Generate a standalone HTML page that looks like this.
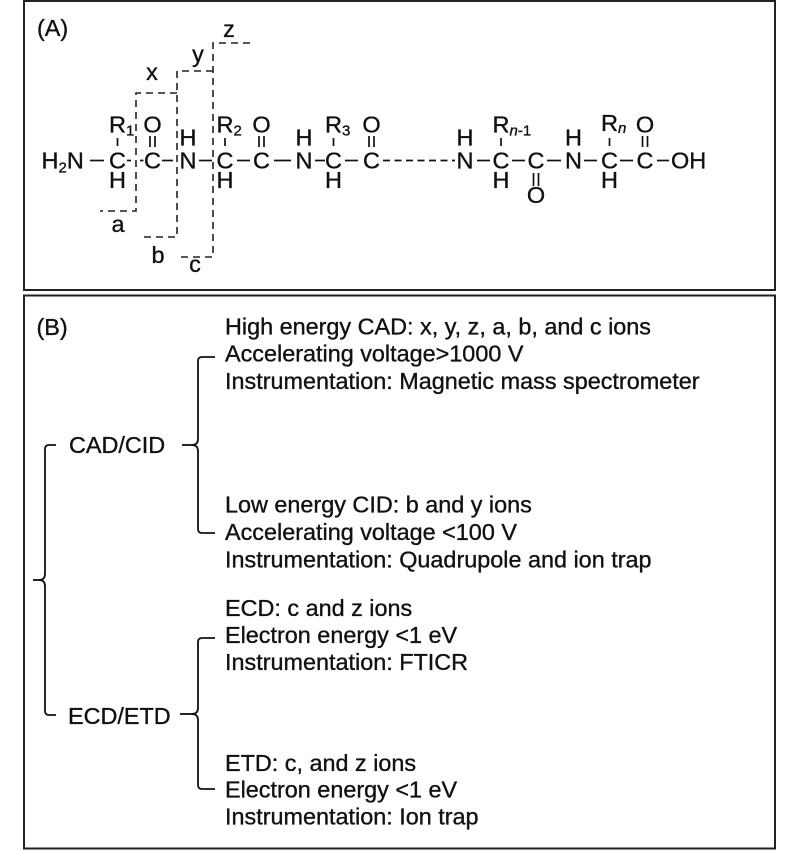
<!DOCTYPE html>
<html>
<head>
<meta charset="utf-8">
<style>
html,body{margin:0;padding:0;background:#fff;}
svg{display:block;}
text{font-family:"Liberation Sans",Arial,sans-serif;fill:#111;stroke:#111;stroke-width:0.35;}
</style>
</head>
<body>
<svg width="800" height="851" viewBox="0 0 800 851" xmlns="http://www.w3.org/2000/svg">
  <!-- Panel borders -->
  <rect x="24" y="1" width="751" height="289" fill="none" stroke="#222" stroke-width="2"/>
  <rect x="24" y="295.5" width="751" height="553" fill="none" stroke="#222" stroke-width="2"/>

  <!-- ===== Panel A ===== -->
  <text x="37" y="36" font-size="23.4">(A)</text>

  <!-- fragment labels -->
  <g font-size="23.4" text-anchor="middle">
    <text x="229" y="37">z</text>
    <text x="198" y="62">y</text>
    <text x="152" y="80">x</text>
    <text x="118" y="232">a</text>
    <text x="158" y="263">b</text>
    <text x="195" y="272">c</text>
  </g>

  <!-- dashed cleavage brackets -->
  <g fill="none" stroke="#222" stroke-width="1.6" stroke-dasharray="7 5">
    <path d="M177,93 H136 V211 H100"/>
    <path d="M213,71 H177 V237 H142"/>
    <path d="M250,43 H213 V257 H177"/>
  </g>

  <!-- main chain atoms -->
  <g font-size="23.5">
    <text x="41.5" y="168.5">H<tspan font-size="15" dy="4">2</tspan><tspan dy="-4">N</tspan></text>
    <text x="671" y="168.5">OH</text>
  </g>
  <g font-size="23.5" text-anchor="middle">
    <text x="117.5" y="168.5">C</text>
    <text x="152.5" y="168.5">C</text>
    <text x="188" y="168.5">N</text>
    <text x="225" y="168.5">C</text>
    <text x="261.5" y="168.5">C</text>
    <text x="304" y="168.5">N</text>
    <text x="333.5" y="168.5">C</text>
    <text x="371.5" y="168.5">C</text>
    <text x="465" y="168.5">N</text>
    <text x="501" y="168.5">C</text>
    <text x="536" y="168.5">C</text>
    <text x="573.5" y="168.5">N</text>
    <text x="609.5" y="168.5">C</text>
    <text x="645" y="168.5">C</text>

    <text x="152.5" y="132.5">O</text>
    <text x="261.5" y="132.5">O</text>
    <text x="371.5" y="132.5">O</text>
    <text x="645" y="132.5">O</text>
    <text x="536" y="203">O</text>

    <text x="188" y="145.5">H</text>
    <text x="304" y="145.5">H</text>
    <text x="465" y="145.5">H</text>
    <text x="573.5" y="145.5">H</text>

    <text x="117.5" y="188">H</text>
    <text x="225" y="188">H</text>
    <text x="333.5" y="188">H</text>
    <text x="501" y="188">H</text>
    <text x="609.5" y="188">H</text>
  </g>

  <!-- R groups -->
  <g font-size="23.5">
    <text x="109" y="132.5">R<tspan font-size="15" dy="3">1</tspan></text>
    <text x="216.5" y="132.5">R<tspan font-size="15" dy="3">2</tspan></text>
    <text x="325" y="132.5">R<tspan font-size="15" dy="3">3</tspan></text>
    <text x="492.5" y="132.5">R<tspan font-size="15" dy="3" font-style="italic">n</tspan><tspan font-size="15">-1</tspan></text>
    <text x="601" y="131">R<tspan font-size="15" dy="2" font-style="italic">n</tspan></text>
  </g>

  <!-- bonds -->
  <g stroke="#111" stroke-width="1.7" fill="none">
    <line x1="90" y1="160.5" x2="104" y2="160.5"/>
    <line x1="127" y1="160.5" x2="131" y2="160.5"/>
    <line x1="140" y1="160.5" x2="143.5" y2="160.5"/>
    <line x1="162" y1="160.5" x2="173" y2="160.5"/>
    <line x1="199" y1="160.5" x2="212" y2="160.5"/>
    <line x1="237" y1="160.5" x2="250" y2="160.5"/>
    <line x1="274" y1="160.5" x2="291" y2="160.5"/>
    <line x1="315" y1="160.5" x2="325" y2="160.5"/>
    <line x1="345" y1="160.5" x2="358" y2="160.5"/>
    <line x1="383" y1="160.5" x2="455" y2="160.5" stroke-dasharray="7 4.5"/>
    <line x1="477" y1="160.5" x2="490" y2="160.5"/>
    <line x1="512" y1="160.5" x2="525" y2="160.5"/>
    <line x1="547" y1="160.5" x2="561" y2="160.5"/>
    <line x1="584" y1="160.5" x2="597" y2="160.5"/>
    <line x1="620" y1="160.5" x2="633" y2="160.5"/>
    <line x1="657" y1="160.5" x2="669" y2="160.5"/>

    <line x1="117.5" y1="138" x2="117.5" y2="146"/>
    <line x1="225" y1="138" x2="225" y2="146"/>
    <line x1="333.5" y1="138" x2="333.5" y2="146"/>
    <line x1="501" y1="138" x2="501" y2="146"/>
    <line x1="609.5" y1="138" x2="609.5" y2="146"/>

    <line x1="150" y1="136" x2="150" y2="147"/><line x1="155" y1="136" x2="155" y2="147"/>
    <line x1="259" y1="136" x2="259" y2="147"/><line x1="264" y1="136" x2="264" y2="147"/>
    <line x1="369" y1="136" x2="369" y2="147"/><line x1="374" y1="136" x2="374" y2="147"/>
    <line x1="642.5" y1="136" x2="642.5" y2="147"/><line x1="647.5" y1="136" x2="647.5" y2="147"/>
    <line x1="533.5" y1="173" x2="533.5" y2="186"/><line x1="538.5" y1="173" x2="538.5" y2="186"/>
  </g>

  <!-- ===== Panel B ===== -->
  <text x="36.5" y="335" font-size="23.4">(B)</text>

  <g font-size="23.4">
    <text x="69" y="453">CAD/CID</text>
    <text x="68" y="724">ECD/ETD</text>

    <text x="225" y="334.5">High energy CAD: x, y, z, a, b, and c ions</text>
    <text x="225" y="361.5">Accelerating voltage&gt;1000 V</text>
    <text x="225" y="389">Instrumentation: Magnetic mass spectrometer</text>

    <text x="225" y="512.5">Low energy CID: b and y ions</text>
    <text x="225" y="540">Accelerating voltage &lt;100 V</text>
    <text x="225" y="567.5">Instrumentation: Quadrupole and ion trap</text>

    <text x="225" y="616">ECD: c and z ions</text>
    <text x="225" y="643">Electron energy &lt;1 eV</text>
    <text x="225" y="670">Instrumentation: FTICR</text>

    <text x="225" y="771">ETD: c, and z ions</text>
    <text x="225" y="797.5">Electron energy &lt;1 eV</text>
    <text x="225" y="824.5">Instrumentation: Ion trap</text>
  </g>

  <!-- braces -->
  <g fill="none" stroke="#111" stroke-width="1.8" stroke-linejoin="round">
    <path d="M56,445 H49 Q45,445 45,449 V574 Q45,580 39,580 Q45,580 45,586 V711 Q45,715 49,715 H56"/>
    <line x1="33" y1="580" x2="40" y2="580"/>

    <path d="M215,357 H202 Q198,357 198,361 V439 Q198,445 192,445 Q198,445 198,451 V529 Q198,533 202,533 H215"/>
    <line x1="182" y1="445" x2="193" y2="445"/>

    <path d="M215,638 H202 Q198,638 198,642 V708 Q198,714 192,714 Q198,714 198,720 V785 Q198,789 202,789 H215"/>
    <line x1="180" y1="714" x2="193" y2="714"/>
  </g>
</svg>
</body>
</html>
